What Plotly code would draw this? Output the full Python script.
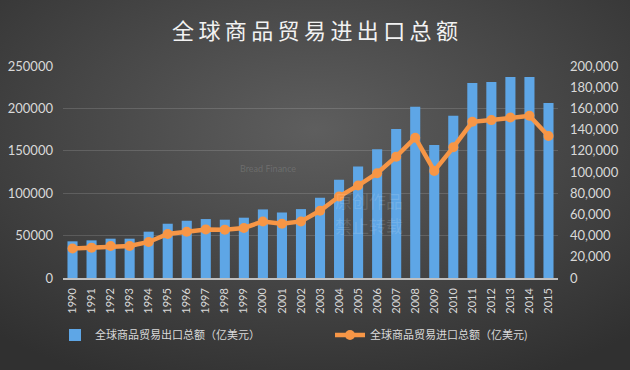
import base64
import plotly.graph_objects as go

years = [str(y) for y in range(1990, 2016)]
exports = [34600, 35500, 37100, 37100, 43700, 51200, 54000, 55600, 55000, 56900,
           64700, 61800, 65000, 75700, 92600, 105100, 121400, 140500, 161500, 125500,
           153000, 184000, 185000, 189700, 189700, 165200]
imports = [34700, 35800, 37800, 37800, 42500, 51900, 54600, 57300, 57000, 59000,
           66700, 64000, 66700, 79300, 96100, 109000, 123600, 143100, 165400, 126300,
           154100, 184200, 186200, 189300, 191300, 167400]
export_name = "全球商品贸易出口总额（亿美元）"
import_name = "全球商品贸易进口总额（亿美元)"
title_text = "全球商品贸易进出口总额"

W, H = 630, 370
ml, mr, mt, mb = 63, 72, 66, 92
pw, ph = W - ml - mr, H - mt - mb

svg = f'''<svg xmlns="http://www.w3.org/2000/svg" width="{W}" height="{H}" viewBox="0 0 {W} {H}" preserveAspectRatio="none">
<defs><radialGradient id="g" cx="50%" cy="35%" r="75%">
<stop offset="0%" stop-color="#5e5e5e"/><stop offset="100%" stop-color="#303030"/></radialGradient></defs>
<rect width="{W}" height="{H}" fill="url(#g)"/></svg>'''
bg_src = "data:image/svg+xml;base64," + base64.b64encode(svg.encode()).decode()

font_num = "Lato, 'Open Sans', sans-serif"
font_cjk = "'Noto Sans CJK SC', sans-serif"

fig = go.Figure()
fig.add_trace(go.Bar(
    x=years, y=exports, name=export_name, yaxis="y", legend="legend",
    marker=dict(color="#5ea6e6", line=dict(width=0)),
))
fig.add_trace(go.Scatter(
    x=years, y=imports, name=import_name, yaxis="y2", mode="lines+markers", legend="legend2",
    line=dict(color="#f79646", width=4.5),
    marker=dict(color="#f79646", size=10),
))

legend_common = dict(orientation="h", xref="container", yref="container",
                     xanchor="left", y=1 - 335 / H, yanchor="middle",
                     font=dict(family=font_cjk, size=11, color="#d9d9d9"),
                     bgcolor="rgba(0,0,0,0)", itemwidth=30)

fig.update_layout(
    width=W, height=H,
    margin=dict(l=ml, r=mr, t=mt, b=mb, autoexpand=False),
    paper_bgcolor="#444444",
    plot_bgcolor="rgba(0,0,0,0)",
    bargap=0.47,
    showlegend=True,
    title=dict(text="\u2009".join(title_text), x=0.5, xanchor="center", y=1 - 31 / H, yanchor="middle",
               font=dict(family=font_cjk, size=22, color="#f2f2f2")),
    xaxis=dict(type="category", range=[-0.5, len(years) - 0.5], tickangle=-90, showgrid=False,
               showline=True, linecolor="#bfbfbf", linewidth=1.5, ticklabelstandoff=4,
               ticks="", tickfont=dict(family=font_num, size=11, color="#d9d9d9")),
    yaxis=dict(side="right", range=[0, 200000], dtick=20000, tickformat=",",
               showgrid=False, zeroline=False, ticks="", ticklabelstandoff=11,
               tickfont=dict(family=font_num, size=13, color="#d9d9d9")),
    yaxis2=dict(side="left", overlaying="y", range=[0, 250000], dtick=50000, tickformat="d",
                showgrid=True, gridcolor="rgba(255,255,255,0.14)", gridwidth=1,
                zeroline=False, ticks="", ticklabelstandoff=9,
                tickfont=dict(family=font_num, size=13, color="#d9d9d9")),
    legend=dict(legend_common, x=55 / W),
    legend2=dict(legend_common, x=330 / W),
    images=[dict(source=bg_src, xref="paper", yref="paper",
                 x=-ml / pw, y=1 + mt / ph, sizex=W / pw, sizey=H / ph,
                 xanchor="left", yanchor="top", sizing="stretch", layer="below")],
    annotations=[
        dict(text="Bread Finance", xref="paper", yref="paper", x=(268 - ml) / pw,
             y=(H - mb - 168) / ph, showarrow=False,
             font=dict(family=font_num, size=9, color="rgba(255,255,255,0.15)")),
        dict(text="原创作品", xref="paper", yref="paper", x=(405 - ml) / pw,
             y=(H - mb - 215) / ph, showarrow=False,
             font=dict(family=font_cjk, size=17, color="rgba(255,255,255,0.13)")),
        dict(text="禁止转载", xref="paper", yref="paper", x=(405 - ml) / pw,
             y=(H - mb - 240) / ph, showarrow=False,
             font=dict(family=font_cjk, size=17, color="rgba(255,255,255,0.13)")),
    ],
)

fig.write_html("out.html", config={"displayModeBar": False},
               post_script="document.body.style.margin='0';document.body.style.overflow='hidden';")
